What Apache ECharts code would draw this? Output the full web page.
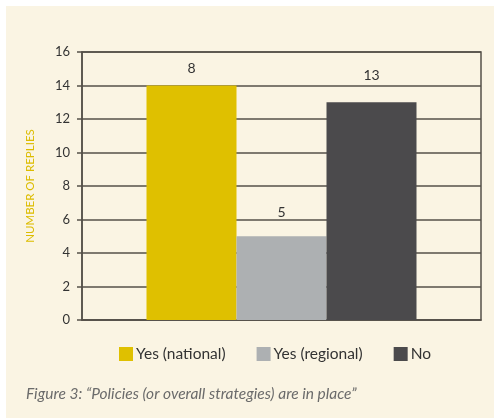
<!DOCTYPE html>
<html>
<head>
<meta charset="utf-8">
<script src="https://cdn.jsdelivr.net/npm/echarts@6/dist/echarts.min.js"></script>
<style>
  html, body { margin: 0; padding: 0; background: #fff; }
  #chart { width: 494px; height: 418px; }
</style>
</head>
<body>
<div id="chart"></div>
<script>
  // data
  const seriesNames = ['Yes (national)', 'Yes (regional)', 'No']
  const barValues = [14, 5, 13]
  const barLabels = ['8', '5', '13']   // printed labels (first one differs from bar height in the source)
  const barColors = ['#dfc000', '#adb0b2', '#4b4a4c']
  const labelGaps = [10, 17, 20]
  const yTicks = [0, 2, 4, 6, 8, 10, 12, 14, 16]

  const font = 'Lato, "Open Sans", sans-serif'

  let seriesList = []
  seriesNames.forEach((name, i) => {
    seriesList.push({
      name: name,
      type: 'bar',
      barWidth: 90,
      barGap: '0%',
      itemStyle: { color: barColors[i] },
      label: {
        show: true,
        position: 'top',
        distance: labelGaps[i],
        formatter: () => barLabels[i],
        color: '#333',
        fontSize: 14,
        fontFamily: font
      },
      data: [barValues[i]]
    })
  })

  const myChart = echarts.init(document.getElementById('chart'))
  myChart.setOption({
    animation: false,
    graphic: [{
      type: 'rect',
      z: -10,
      shape: { x: 6, y: 6, width: 488, height: 412 },
      style: { fill: '#faf4e3' }
    }],
    title: {
      text: 'Figure 3: \u201cPolicies (or overall strategies) are in place\u201d',
      left: 21,
      top: 381,
      textStyle: {
        fontStyle: 'italic',
        fontWeight: 'normal',
        fontSize: 15.5,
        color: '#6b6b6b',
        fontFamily: font
      }
    },
    legend: {
      data: seriesNames,
      top: 341,
      left: 114,
      itemWidth: 14,
      itemHeight: 14,
      itemGap: 31,
      icon: 'rect',
      textStyle: { fontSize: 15.5, color: '#333', fontFamily: font, padding: [0, 0, 0, -2] }
    },
    grid: {
      left: 82,
      right: 13,
      top: 52,
      bottom: 98,
      show: true,
      borderColor: '#555049',
      borderWidth: 1.5
    },
    xAxis: {
      type: 'category',
      data: [''],
      axisTick: { show: false },
      axisLabel: { show: false },
      axisLine: { lineStyle: { color: '#555049', width: 1.5 } }
    },
    yAxis: {
      type: 'value',
      min: yTicks[0],
      max: yTicks[yTicks.length - 1],
      interval: 2,
      name: 'NUMBER OF REPLIES',
      nameLocation: 'middle',
      nameGap: 46,
      nameTextStyle: { color: '#dcbc00', fontSize: 11.5, fontFamily: font },
      axisLine: { show: true, lineStyle: { color: '#555049', width: 1.5 } },
      axisTick: { show: true, length: 5, lineStyle: { color: '#555049', width: 1.5 } },
      axisLabel: { color: '#333', fontSize: 13, margin: 12, fontFamily: font },
      splitLine: { lineStyle: { color: '#555049', width: 1.5 } }
    },
    series: seriesList
  })
</script>
</body>
</html>
